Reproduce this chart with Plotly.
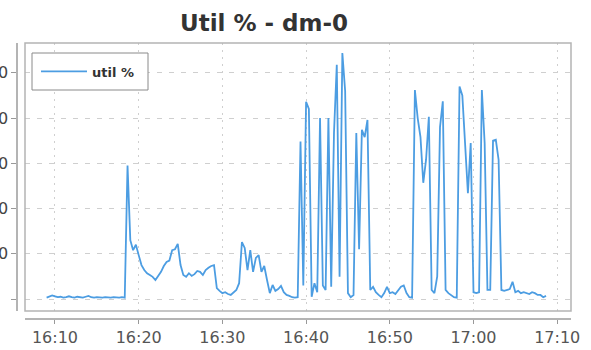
import plotly.graph_objects as go
import pandas as pd

# ---- data ----
series_name = "util %"
start_time = "2024-01-01 16:09:00"
sample_seconds = 20
util = [
    0.3, 0.5, 0.8, 0.6, 0.4, 0.5, 0.3, 0.4, 0.6, 0.4,
    0.3, 0.5, 0.4, 0.3, 0.5, 0.7, 0.4, 0.3, 0.4, 0.3,
    0.3, 0.4, 0.3, 0.3, 0.4, 0.3, 0.3, 0.4, 0.3, 29.5,
    13.0, 10.8, 12.0, 9.7, 7.5, 6.4, 5.7, 5.3, 4.9, 4.2,
    5.1, 6.0, 7.3, 8.2, 8.5, 10.8, 11.0, 12.2, 7.5, 5.3,
    4.9, 5.7, 5.1, 5.5, 6.2, 6.0, 5.3, 6.4, 6.9, 7.3,
    7.5, 2.4, 1.8, 1.3, 1.5, 1.1, 0.9, 1.5, 2.0, 3.5,
    12.6, 11.3, 6.4, 10.8, 6.0, 9.1, 9.7, 6.0, 7.3, 4.2,
    1.3, 3.1, 1.8, 2.2, 2.9, 1.5, 0.9, 0.7, 0.4, 0.3,
    0.4, 34.8, 3.0, 43.6, 42.0, 0.5, 3.5, 1.5, 40.0, 3.0,
    2.0, 40.0, 2.7, 36.7, 51.8, 4.9, 54.4, 46.0, 1.3, 0.4,
    0.9, 36.7, 11.0, 37.4, 35.8, 39.6, 2.0, 2.7, 1.5, 0.9,
    0.4, 1.3, 2.7, 1.3, 1.5, 1.1, 2.0, 2.7, 3.0, 1.3,
    0.4, 0.3, 46.2, 40.0, 35.8, 25.7, 30.8, 40.3, 2.0, 1.3,
    5.0, 38.0, 43.7, 2.0, 1.3, 0.9, 0.4, 0.3, 47.0, 45.0,
    34.5, 23.4, 34.5, 1.5, 1.3, 1.5, 46.2, 34.5, 2.0, 2.0,
    35.0, 35.2, 30.8, 2.0, 1.8, 2.0, 2.2, 3.8, 1.5, 1.8,
    1.3, 1.5, 1.3, 1.1, 1.5, 1.3, 0.9, 0.9, 0.4, 0.7,
]
x_tick_times = ["16:10", "16:20", "16:30", "16:40", "16:50", "17:00", "17:10"]
y_tick_values = [0, 10, 20, 30, 40, 50]
y_tick_labels = ["", "10", "20", "30", "40", "50"]
x_range = ["2024-01-01 16:06:25", "2024-01-01 17:11:39"]
y_range = [-2.65, 56.6]

times = pd.date_range(start_time, periods=len(util), freq=f"{sample_seconds}s")
x_tick_vals = [pd.Timestamp("2024-01-01 " + t) for t in x_tick_times]

W, H = 591, 350
FONT = "DejaVu Sans"

fig = go.Figure()
fig.add_trace(go.Scatter(
    x=times, y=util, mode="lines", name="<b>" + series_name + "</b>",
    line=dict(color="#4c9de2", width=1.8),
))

fig.update_layout(
    width=W, height=H, autosize=False,
    margin=dict(l=0, r=0, t=0, b=0),
    paper_bgcolor="white", plot_bgcolor="white",
    font=dict(family=FONT, color="#444"),
    title=dict(text="<b>Util % - dm-0</b>", x=264 / W, xref="paper", xanchor="center",
               y=1 - 23 / H, yref="paper", yanchor="middle",
               font=dict(family=FONT, size=23, color="#333")),
    showlegend=True,
    legend=dict(x=36 / W, y=1 - 71.5 / H, xanchor="left", yanchor="middle",
                borderwidth=0, bgcolor="rgba(0,0,0,0)",
                font=dict(family=FONT, size=13, color="#333"),
                itemwidth=46),
    xaxis=dict(
        domain=[25 / W, 571 / W], anchor="free", position=1 - 319 / H,
        range=x_range, tickvals=x_tick_vals, ticktext=x_tick_times,
        showline=True, linecolor="#b4b4b4", linewidth=1.5,
        ticks="outside", ticklen=4, tickcolor="#999",
        tickfont=dict(family=FONT, size=16, color="#555"),
        showgrid=True, gridcolor="#cfcfcf", gridwidth=1, griddash="2px,5px",
        zeroline=False, automargin=False,
    ),
    yaxis=dict(
        domain=[1 - 311 / H, 1 - 43 / H], anchor="free", position=17 / W,
        range=y_range, tickvals=y_tick_values, ticktext=y_tick_labels,
        showline=True, linecolor="#b4b4b4", linewidth=1.5,
        ticks="outside", ticklen=5, tickcolor="#999",
        tickfont=dict(family=FONT, size=16, color="#444"),
        showgrid=True, gridcolor="#cfcfcf", gridwidth=1, griddash="5px,7px",
        zeroline=False, automargin=False,
    ),
)
# plot-area outline
fig.add_shape(type="rect", xref="x domain", yref="y domain", x0=0, x1=1, y0=0, y1=1,
              line=dict(color="#b4b4b4", width=1.5), layer="above")
# legend frame
fig.add_shape(type="rect", xref="paper", yref="paper",
              x0=32 / W, x1=148 / W, y0=1 - 90 / H, y1=1 - 53 / H,
              line=dict(color="#8a8a8a", width=1), fillcolor="white", layer="above")

fig.write_html("out.html", config={"displayModeBar": False},
               post_script="document.body.style.margin='0';")
